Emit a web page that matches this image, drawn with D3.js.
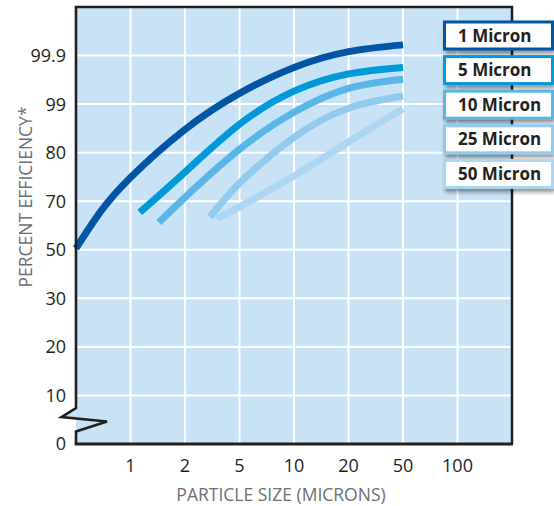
<!DOCTYPE html>
<html><head><meta charset="utf-8">
<script src="https://cdn.jsdelivr.net/npm/d3@7"></script>
<style>
html,body{margin:0;padding:0;background:#fff;}
svg{display:block;font-family:"Open Sans","Noto Sans",sans-serif;}
</style></head>
<body>
<svg id="chart" width="554" height="506"></svg>
<script>
// ---- data ----
const xTicks = [1, 2, 5, 10, 20, 50, 100];
const yTicks = [0, 10, 20, 30, 50, 70, 80, 99, 99.9];
const seriesNames = ["1 Micron", "5 Micron", "10 Micron", "25 Micron", "50 Micron"];
const seriesColors = ["#0056a4", "#0099da", "#59b6e7", "#92caee", "#acd6f2"];
// particle size (microns) vs percent efficiency
const x1 = [0, 0.44, 1, 2, 5, 10, 20, 50];
const y1 = [50.6, 65.4, 74.9, 89.1, 99.2, 99.68, 99.908, 99.922];
const x5 = [1.17, 2, 5, 10, 20, 50];
const y5 = [65.4, 76.0, 91.1, 99.24, 99.56, 99.68];
const x10 = [1.52, 2, 5, 10, 20, 50];
const y10 = [61.2, 70.8, 81.3, 95.8, 99.29, 99.46];
const x25 = [3.38, 5, 10, 20, 50];
const y25 = [63.5, 73.7, 86.0, 97.4, 99.15];
const x50 = [3.75, 5, 10, 20, 50];
const y50 = [62.9, 67.7, 75.2, 84.2, 97.2];
const seriesX = [x1, x5, x10, x25, x50];
const seriesY = [y1, y5, y10, y25, y50];

// ---- layout ----
const L = 76, R = 512, T = 7, B = 444;
const svg = d3.select("#chart");
const ink = "#231f20", grey = "#6d6e71", bg = "#c9e3f6";

const xDomain = [0].concat(xTicks, [200]);
const yDomain = yTicks.concat([100]);
const x = d3.scaleLinear().domain(xDomain)
  .range(xDomain.map((d, i) => L + i * (R - L) / (xDomain.length - 1)));
const y = d3.scaleLinear().domain(yDomain)
  .range(yDomain.map((d, i) => B - i * (B - T) / (yDomain.length - 1)));

const defs = svg.append("defs");
const f = defs.append("filter").attr("id", "sh").attr("x", "-20%").attr("y", "-30%").attr("width", "150%").attr("height", "190%");
f.append("feDropShadow").attr("dx", 2).attr("dy", 3).attr("stdDeviation", 2)
  .attr("flood-color", "#000").attr("flood-opacity", 0.45);

// background
svg.append("rect").attr("x", L).attr("y", T).attr("width", R - L).attr("height", B - T).attr("fill", bg);

// grid
svg.append("g").selectAll("line").data(xTicks).join("line")
  .attr("x1", d => x(d)).attr("x2", d => x(d)).attr("y1", T).attr("y2", B)
  .attr("stroke", "#fff").attr("stroke-width", 2);
svg.append("g").selectAll("line").data(yTicks.slice(1)).join("line")
  .attr("x1", L).attr("x2", R).attr("y1", d => y(d)).attr("y2", d => y(d))
  .attr("stroke", "#fff").attr("stroke-width", 2);

// curves
const line = d3.line().curve(d3.curveNatural);
seriesNames.forEach((name, k) => {
  const pts = seriesX[k].map((v, i) => [x(v), y(seriesY[k][i])]);
  svg.append("path").attr("d", line(pts)).attr("fill", "none")
    .attr("stroke", seriesColors[k]).attr("stroke-width", 7).attr("stroke-linecap", "butt");
});

// frame with axis break
const yb2 = y(7.4);
svg.append("path")
  .attr("d", `M${L},${yb2} L${L - 14.5},${yb2 + 9} L${L + 31},${yb2 + 13.5} L${L},${yb2 + 23.5} Z`)
  .attr("fill", bg).attr("stroke", "none");
svg.append("path")
  .attr("d", `M${L},${T} L${L},${yb2} L${L - 14.5},${yb2 + 9} L${L + 31},${yb2 + 13.5} L${L},${yb2 + 23.5} L${L},${B}`)
  .attr("fill", "none").attr("stroke", ink).attr("stroke-width", 2.6).attr("stroke-linejoin", "miter");
svg.append("line").attr("x1", L - 1.3).attr("x2", R + 1).attr("y1", B).attr("y2", B).attr("stroke", ink).attr("stroke-width", 3);
svg.append("path").attr("d", `M${L - 1.3},${T} L${R},${T} L${R},${B}`).attr("fill", "none").attr("stroke", ink).attr("stroke-width", 2.5);

// tick labels
svg.append("g").selectAll("text").data(yTicks).join("text")
  .attr("x", 66).attr("y", d => y(d)).attr("dy", "0.36em").attr("text-anchor", "end")
  .attr("font-size", 18).attr("fill", ink).text(d => d);
svg.append("g").selectAll("text").data(xTicks).join("text")
  .attr("x", d => x(d)).attr("y", 466).attr("dy", "0.36em").attr("text-anchor", "middle")
  .attr("font-size", 18).attr("fill", ink).text(d => d);

// axis titles
svg.append("text").attr("x", 281).attr("y", 501).attr("text-anchor", "middle")
  .attr("font-size", 17.5).attr("fill", grey).text("PARTICLE SIZE (MICRONS)");
svg.append("text").attr("transform", "translate(32,197) rotate(-90)").attr("text-anchor", "middle")
  .attr("font-size", 17.5).attr("fill", grey).text("PERCENT EFFICIENCY*");

// legend
const lg = svg.append("g");
seriesNames.forEach((name, k) => {
  const gy = 22 + k * 34.6;
  lg.append("rect").attr("x", 444.5).attr("y", gy).attr("width", 108).attr("height", 27)
    .attr("fill", "#fff").attr("stroke", seriesColors[k]).attr("stroke-width", 3).attr("filter", "url(#sh)");
  lg.append("text").attr("x", 458).attr("y", gy + 13.5).attr("dy", "0.36em")
    .attr("font-size", 17).attr("font-weight", "bold").attr("fill", ink).text(name);
});
</script>
</body></html>
